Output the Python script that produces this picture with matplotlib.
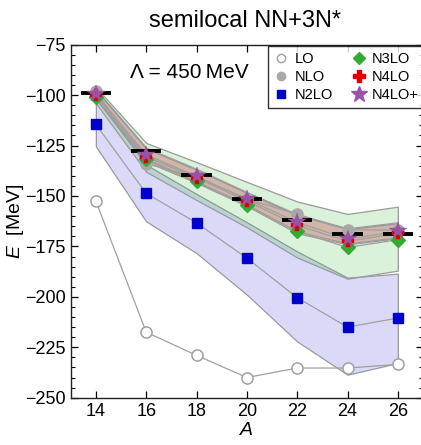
import matplotlib
matplotlib.use("Agg")
import matplotlib.pyplot as plt
from matplotlib.ticker import MultipleLocator
from matplotlib.lines import Line2D

plt.rcParams['font.family'] = ['Liberation Sans', 'DejaVu Sans']
plt.rcParams['mathtext.fontset'] = 'custom'
plt.rcParams['mathtext.it'] = 'Liberation Sans:italic'
plt.rcParams['mathtext.rm'] = 'Liberation Sans'

# Mass number of the oxygen isotopes
A = [14, 16, 18, 20, 22, 24, 26]

# Ground-state energies [MeV] at each chiral order
E_LO = [-152.5, -217.5, -229.0, -240.0, -235.3, -235.3, -233.5]
E_NLO = [-98.0, -134.0, -140.5, -151.5, -159.0, -166.7, -167.0]
E_N2LO = [-114.5, -148.7, -163.3, -180.8, -200.4, -215.0, -210.5]
E_N3LO = [-101.0, -131.5, -142.8, -154.3, -167.6, -175.5, -171.7]
E_N4LO = [-100.0, -130.5, -141.0, -152.5, -164.5, -172.5, -168.5]
E_N4LOp = [-99.4, -129.5, -140.3, -151.5, -163.1, -171.3, -167.5]

# Experimental binding energies
E_exp = [-98.7, -127.6, -139.8, -151.4, -162.0, -168.9, -168.9]

# Truncation-uncertainty bands (lower, upper)
N2LO_lo = [-125.4, -162.6, -178.3, -198.9, -222.1, -238.6, -232.8]
N2LO_hi = [-101.5, -134.5, -149.0, -163.0, -177.5, -190.5, -188.5]
N3LO_lo = [-104.0, -138.0, -152.0, -165.5, -180.5, -191.0, -187.0]
N3LO_hi = [-96.0, -123.7, -133.2, -143.0, -152.7, -158.9, -155.3]
N4LO_lo = [-102.0, -133.0, -143.5, -155.0, -168.5, -174.0, -171.0]
N4LO_hi = [-97.5, -126.5, -137.0, -148.5, -159.5, -166.5, -163.5]
N4LOp_lo = [-101.5, -132.0, -143.0, -154.5, -167.5, -173.5, -170.5]
N4LOp_hi = [-97.0, -126.0, -136.5, -148.0, -159.0, -166.0, -163.0]

fig = plt.figure(figsize=(4.21, 4.45), dpi=100)
ax = fig.add_axes([70.7 / 421, 1 - 397.7 / 445, (423 - 70.7) / 421, (397.7 - 44.7) / 445])

edge = '#9a9a9a'
ax.fill_between(A, N2LO_lo, N2LO_hi, facecolor=(0.2, 0.2, 0.85, 0.18), edgecolor=edge, lw=0.9, zorder=1)
ax.fill_between(A, N3LO_lo, N3LO_hi, facecolor=(0.2, 0.7, 0.2, 0.18), edgecolor=edge, lw=0.9, zorder=1.1)
ax.fill_between(A, N4LO_lo, N4LO_hi, facecolor=(0.85, 0.25, 0.1, 0.25), edgecolor=edge, lw=0.8, zorder=1.2)
ax.fill_between(A, N4LOp_lo, N4LOp_hi, facecolor=(0.6, 0.3, 0.6, 0.12), edgecolor=edge, lw=0.8, zorder=1.3)

line_kw = dict(color='#a0a0a0', lw=0.9, zorder=2)
for E in (E_LO, E_NLO, E_N2LO, E_N3LO, E_N4LO, E_N4LOp):
    ax.plot(A, E, **line_kw)

# experiment
for a, e in zip(A, E_exp):
    ax.plot([a - 0.6, a + 0.6], [e, e], color='black', lw=2.8, solid_capstyle='butt', zorder=3)

ax.plot(A, E_LO, ls='none', marker='o', ms=8, mfc='white', mec='#a0a0a0', mew=1.1, zorder=4)
ax.plot(A, E_NLO, ls='none', marker='o', ms=8, mfc='#a8a8a8', mec='#a8a8a8', zorder=4)
ax.plot(A, E_N2LO, ls='none', marker='s', ms=7, mfc='#0000cc', mec='#0000cc', zorder=4)
ax.plot(A, E_N3LO, ls='none', marker='D', ms=7, mfc='#33aa33', mec='#33aa33', zorder=5)
ax.plot(A, E_N4LO, ls='none', marker='P', ms=8.5, mfc='#dd0000', mec='#dd0000', mew=0.3, zorder=6)
ax.plot(A, E_N4LOp, ls='none', marker='*', ms=13, mfc='#9a52a6', mec='#9a52a6', mew=0.3, zorder=7)

ax.set_xlim(13, 27)
ax.set_ylim(-250, -75)
ax.set_xticks(A)
ax.yaxis.set_major_locator(MultipleLocator(25))
ax.yaxis.set_minor_locator(MultipleLocator(5))
ax.tick_params(which='both', direction='in', top=True, right=True, labelsize=13, colors='black')
ax.tick_params(which='major', length=5, width=0.9)
ax.tick_params(which='minor', length=3, width=0.8)
for s in ax.spines.values():
    s.set_linewidth(1.0)
    s.set_color('#222222')

ax.set_xlabel(r'$A$', fontsize=14, labelpad=2)
ax.set_ylabel(r'$E$  [MeV]', fontsize=14, labelpad=-1)
fig.text(245 / 421, 1 - 21 / 445, 'semilocal NN+3N*', fontsize=17, ha='center', va='center')
ax.text(189 / 421, 1 - 73 / 445, 'Λ = 450\u2009MeV', fontsize=15, ha='center', va='center',
        transform=fig.transFigure)

handles = [
    Line2D([], [], ls='none', marker='o', ms=6, mfc='white', mec='#a0a0a0', mew=1.0),
    Line2D([], [], ls='none', marker='o', ms=6, mfc='#a8a8a8', mec='#a8a8a8'),
    Line2D([], [], ls='none', marker='s', ms=6, mfc='#0000cc', mec='#0000cc'),
    Line2D([], [], ls='none', marker='D', ms=6, mfc='#33aa33', mec='#33aa33'),
    Line2D([], [], ls='none', marker='P', ms=8, mfc='#dd0000', mec='#dd0000'),
    Line2D([], [], ls='none', marker='*', ms=12, mfc='#9a52a6', mec='#9a52a6'),
]
labels = ['LO', 'NLO', 'N2LO', 'N3LO', 'N4LO', 'N4LO+']
leg = ax.legend(handles, labels, ncol=2, loc='upper left',
                bbox_to_anchor=(268 / 421, 1 - 46 / 445), bbox_transform=fig.transFigure,
                fontsize=10.5, frameon=True, fancybox=False, borderaxespad=0,
                borderpad=0.4, handlelength=1.0, handletextpad=0.4,
                columnspacing=1.3, labelspacing=0.28)
leg.get_frame().set_edgecolor('black')
leg.get_frame().set_linewidth(1.0)
leg.set_zorder(10)

fig.savefig('out.png', dpi=100)
